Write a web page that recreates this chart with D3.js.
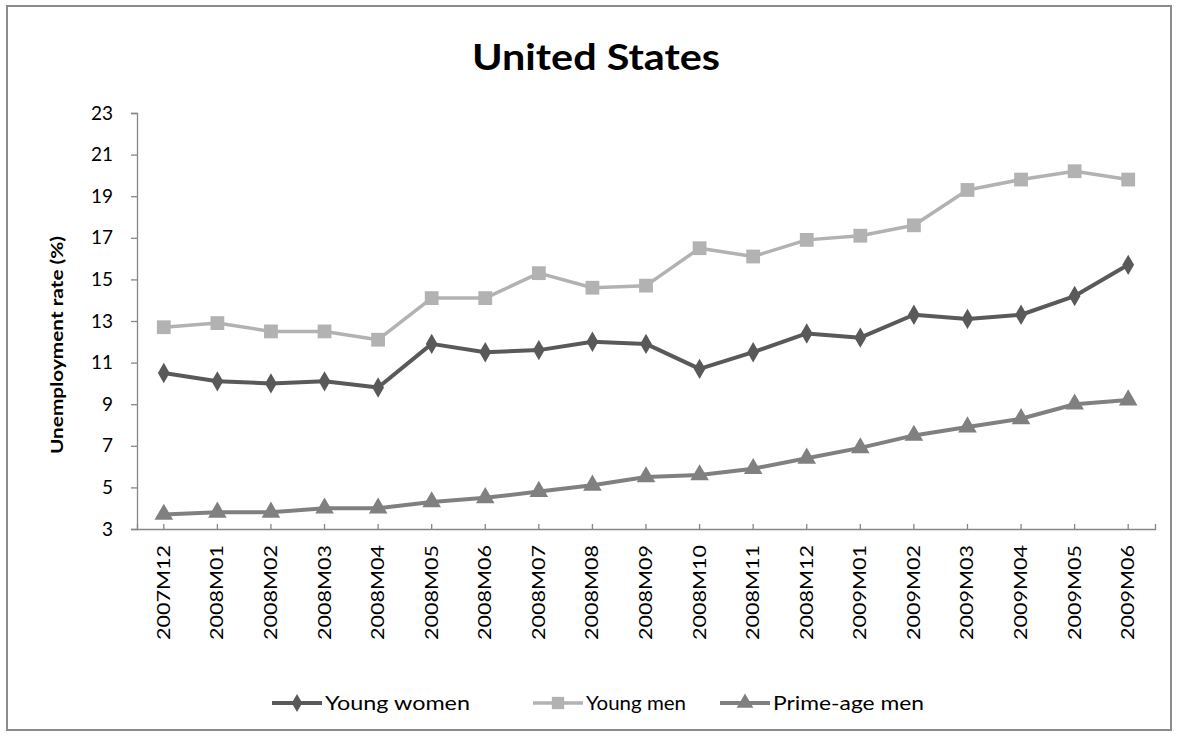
<!DOCTYPE html>
<html>
<head>
<meta charset="utf-8">
<script src="https://cdn.jsdelivr.net/npm/d3@7"></script>
<style>
  body { margin: 0; background: #fff; }
  svg { display: block; font-family: Lato, "Open Sans", sans-serif; }
</style>
</head>
<body>
<svg id="chart" width="1178" height="736"></svg>
<script>
// categories and series
const months = ['2007M12', '2008M01', '2008M02', '2008M03', '2008M04', '2008M05', '2008M06',
  '2008M07', '2008M08', '2008M09', '2008M10', '2008M11', '2008M12', '2009M01', '2009M02',
  '2009M03', '2009M04', '2009M05', '2009M06'];
const youngWomen = [10.5, 10.1, 10.0, 10.1, 9.8, 11.9, 11.5, 11.6, 12.0, 11.9, 10.7, 11.5, 12.4, 12.2, 13.3, 13.1, 13.3, 14.2, 15.7];
const youngMen = [12.7, 12.9, 12.5, 12.5, 12.1, 14.1, 14.1, 15.3, 14.6, 14.7, 16.5, 16.1, 16.9, 17.1, 17.6, 19.3, 19.8, 20.2, 19.8];
const primeAgeMen = [3.7, 3.8, 3.8, 4.0, 4.0, 4.3, 4.5, 4.8, 5.1, 5.5, 5.6, 5.9, 6.4, 6.9, 7.5, 7.9, 8.3, 9.0, 9.2];
const yTicks = [3, 5, 7, 9, 11, 13, 15, 17, 19, 21, 23];

const series = [
  { name: 'Young women', values: youngWomen, color: '#595959', symbol: d3.symbolDiamond, size: 120, width: 4, textLen: 145 },
  { name: 'Young men', values: youngMen, color: '#b2b2b2', symbol: d3.symbolSquare, size: 190, width: 3.5, textLen: 100 },
  { name: 'Prime-age men', values: primeAgeMen, color: '#808080', symbol: d3.symbolTriangle, size: 150, width: 4, textLen: 151 }
];

const svg = d3.select('#chart');
const axisColor = '#868686';

// outer frame
svg.append('rect')
  .attr('x', 7).attr('y', 6).attr('width', 1164).attr('height', 724)
  .attr('fill', 'none').attr('stroke', '#8c8c8c').attr('stroke-width', 2);

const margin = { left: 137, right: 1155, top: 113, bottom: 529 };

const x = d3.scaleBand().domain(months).range([margin.left, margin.right]);
const y = d3.scaleLinear().domain([3, 23]).range([margin.bottom, margin.top]);

// title
svg.append('text')
  .attr('x', 596).attr('y', 70)
  .attr('text-anchor', 'middle')
  .attr('textLength', 248).attr('lengthAdjust', 'spacingAndGlyphs')
  .style('font-size', '36px').style('font-weight', 'bold')
  .text('United States');

// y axis
const yAxis = svg.append('g')
  .attr('transform', `translate(${margin.left},0)`)
  .call(d3.axisLeft(y).tickValues(yTicks).tickSize(6).tickPadding(18));
yAxis.selectAll('line, path').attr('stroke', axisColor).attr('stroke-width', 1.3);
yAxis.selectAll('text').style('font-size', '19px').attr('fill', '#000').style('font-family', 'Lato, sans-serif');

svg.append('text')
  .attr('transform', `translate(63,345) rotate(-90)`)
  .attr('text-anchor', 'middle')
  .attr('textLength', 218).attr('lengthAdjust', 'spacingAndGlyphs')
  .style('font-size', '17px').style('font-weight', 'bold')
  .text('Unemployment rate (%)');

// x axis, ticks pointing inward at category centres
const xAxis = svg.append('g')
  .attr('transform', `translate(0,${margin.bottom})`)
  .call(d3.axisBottom(x).tickSizeInner(-5).tickSizeOuter(-5).tickPadding(0));
xAxis.selectAll('line, path').attr('stroke', axisColor).attr('stroke-width', 1.3);
xAxis.selectAll('text')
  .style('font-size', '17px').attr('fill', '#000').style('font-family', 'Lato, sans-serif')
  .attr('text-anchor', 'end')
  .attr('dy', null)
  .attr('textLength', 95).attr('lengthAdjust', 'spacingAndGlyphs')
  .attr('transform', 'translate(6,16) rotate(-90)');

const cx = (i) => x(months[i]) + x.bandwidth() / 2;

const line = d3.line()
  .x((d, i) => cx(i))
  .y((d) => y(d));

const plot = svg.append('g');
series.forEach((s) => {
  plot.append('path')
    .datum(s.values)
    .attr('fill', 'none')
    .attr('stroke', s.color)
    .attr('stroke-width', s.width)
    .attr('stroke-linejoin', 'round')
    .attr('d', line);
  plot.selectAll(null)
    .data(s.values)
    .join('path')
    .attr('transform', (d, i) => `translate(${cx(i)},${y(d)})`)
    .attr('d', d3.symbol().type(s.symbol).size(s.size))
    .attr('fill', s.color);
});

// legend
const legendX = [272, 533, 720];
const legend = svg.append('g');
series.forEach((s, i) => {
  const g = legend.append('g').attr('transform', `translate(${legendX[i]},703)`);
  g.append('line')
    .attr('x1', 0).attr('x2', 50)
    .attr('stroke', s.color).attr('stroke-width', s.width);
  g.append('path')
    .attr('transform', 'translate(25,0)')
    .attr('d', d3.symbol().type(s.symbol).size(s.size * 0.8))
    .attr('fill', s.color);
  g.append('text')
    .attr('x', 53).attr('y', 7)
    .attr('textLength', s.textLen).attr('lengthAdjust', 'spacingAndGlyphs')
    .style('font-size', '20px')
    .text(s.name);
});
</script>
</body>
</html>
